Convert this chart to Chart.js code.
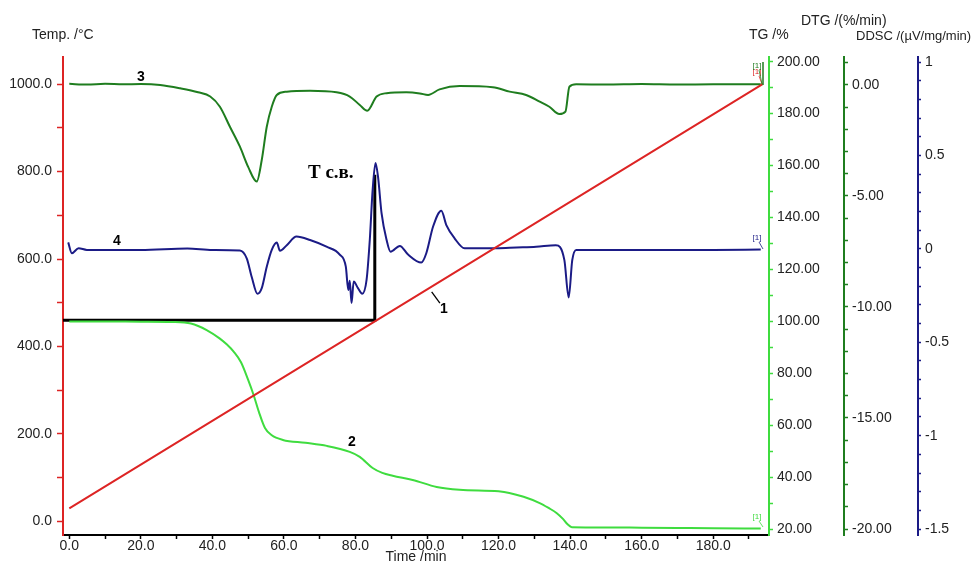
<!DOCTYPE html>
<html>
<head>
<meta charset="utf-8">
<script src="https://cdn.jsdelivr.net/npm/chart.js@4.4.1/dist/chart.umd.min.js"></script>
<style>
html,body{margin:0;padding:0;background:#fff;}
#wrap{width:980px;height:563px;position:relative;}
</style>
</head>
<body>
<div id="wrap"><canvas id="c" width="980" height="563"></canvas></div>
<script>
// ---- Data ----
// Curve 1: temperature (°C) vs time (min)
const tempTime  = [0, 193.8];
const tempValue = [30, 1000];

// Curve 2: TG (%)
const tgTime  = [0, 10, 20, 29, 34, 38.4, 42, 44, 46, 48, 50, 51.5, 53, 54.7, 56.5, 59.7, 66, 72, 78.4, 81.2, 84.8, 87.5, 90.4, 96, 102.7, 109.1, 120, 123, 127, 131.5, 134, 136.2, 138, 139.3, 140.5, 150, 160, 170, 180, 193.3];
const tgValue = [100, 100, 99.9, 99.8, 99.2, 96.7, 93.5, 91.2, 88.3, 84.3, 77.5, 71.8, 65.2, 59, 56.3, 54.4, 53.3, 52.1, 49.8, 47.9, 43.6, 41.7, 40.6, 39, 36.3, 35.2, 34.6, 34, 32.5, 30.1, 28.2, 26.3, 24, 21.9, 20.8, 20.7, 20.6, 20.5, 20.4, 20.3];

// Curve 3: DTG (%/min)
const dtgTime  = [0, 5, 10, 15, 20, 25.4, 31, 36, 39.4, 42.1, 44.9, 47.7, 50, 52.4, 53.8, 55.2, 56.6, 58, 60.8, 67.3, 74.7, 78.4, 81.2, 83.3, 85.9, 88.7, 94.2, 98, 100.3, 103.5, 109.1, 118.4, 123.1, 127.7, 131.5, 134.2, 137, 138.7, 139.8, 141.7, 150, 160, 170, 180, 193.3];
const dtgValue = [0.05, 0.02, 0.05, 0.03, 0.04, 0, -0.15, -0.33, -0.52, -0.98, -1.88, -2.78, -3.69, -4.35, -3.38, -1.88, -0.98, -0.45, -0.3, -0.26, -0.33, -0.52, -0.9, -1.16, -0.52, -0.37, -0.33, -0.38, -0.45, -0.2, -0.05, -0.1, -0.3, -0.45, -0.75, -0.98, -1.31, -1.2, -0.08, 0.03, 0.02, 0.04, 0.02, 0.03, 0.03];

// Curve 4: DDSC (µV/mg/min)
const ddscTime  = [-0.3, 0.7, 2.6, 4.9, 20, 33, 40, 47.7, 49.6, 51, 52.6, 53.8, 55.2, 56.6, 58, 58.9, 60.8, 63.5, 67.3, 71.9, 75.6, 77.3, 78, 78.4, 78.9, 79.5, 80.7, 81.9, 83.1, 84, 84.8, 85.6, 86.3, 87.3, 88.7, 89.8, 92.4, 94.7, 98.4, 99.8, 101.7, 104, 105.4, 107.7, 110.5, 119.4, 125, 130.5, 136, 138.4, 139.6, 140.6, 141.7, 160, 180, 193.3];
const ddscValue = [0.035, -0.023, 0.004, -0.005, -0.005, 0.003, -0.005, -0.008, -0.05, -0.15, -0.24, -0.21, -0.095, -0.005, 0.034, -0.01, 0.02, 0.066, 0.048, 0.012, -0.03, -0.095, -0.22, -0.17, -0.29, -0.175, -0.21, -0.24, -0.166, 0.048, 0.316, 0.46, 0.387, 0.19, 0.048, -0.015, 0.016, -0.03, -0.073, -0.023, 0.12, 0.205, 0.128, 0.057, 0.004, 0.004, 0.008, 0.012, 0.02, -0.06, -0.26, -0.06, -0.005, -0.005, -0.005, -0.003];

// "T с.в." marker line (time, temperature)
const markTime = [-1.8, 85.4, 85.4];
const markTemp = [460, 460, 793];

// Tick values
const xTicks    = [0,10,20,30,40,50,60,70,80,90,100,110,120,130,140,150,160,170,180,190];
const tempTicks = [0,100,200,300,400,500,600,700,800,900,1000];
const tgTicks   = [20,30,40,50,60,70,80,90,100,110,120,130,140,150,160,170,180,190,200];
const dtgTicks  = [-20,-19,-18,-17,-16,-15,-14,-13,-12,-11,-10,-9,-8,-7,-6,-5,-4,-3,-2,-1,0,1];
const ddscTicks = [-1.5,-1.4,-1.3,-1.2,-1.1,-1.0,-0.9,-0.8,-0.7,-0.6,-0.5,-0.4,-0.3,-0.2,-0.1,0,0.1,0.2,0.3,0.4,0.5,0.6,0.7,0.8,0.9,1.0];

// ---- Build ----
const pts = (xs, ys) => xs.map((x, i) => ({x: x, y: ys[i]}));
const FONT = '"Liberation Sans", Arial, sans-serif';
const C_RED = '#dd2424', C_TG = '#3fdc3f', C_DTG = '#1f7d1f', C_DDSC = '#1b1b86';

function setTicks(arr){ return function(scale){ scale.ticks = arr.map(v => ({value: v})); }; }
function isMult(v, m){ return Math.abs(v/m - Math.round(v/m)) < 1e-6; }

function yAxis(opts){
  return {
    type: 'linear', position: opts.pos, min: opts.min, max: opts.max, weight: opts.weight,
    afterBuildTicks: setTicks(opts.ticks),
    afterFit: s => { s.width = opts.width; },
    border: {display: true, color: opts.color, width: 2},
    grid: {display: true, drawOnChartArea: false, drawTicks: true, tickLength: opts.tl, tickColor: opts.color, tickWidth: 1.5},
    ticks: {
      autoSkip: false, padding: opts.pad, color: '#222',
      font: {family: FONT, size: opts.fs || 14, lineHeight: 1},
      callback: function(v){ return isMult(v, opts.major) ? opts.fmt(v) : ''; }
    }
  };
}

const textPlugin = {
  id: 'texts',
  afterDraw(chart){
    const ctx = chart.ctx, xs = chart.scales.x, yt = chart.scales.yTemp;
    const P = (t, v) => [xs.getPixelForValue(t), yt.getPixelForValue(v)];
    ctx.save();
    ctx.fillStyle = '#222';
    ctx.textBaseline = 'middle';
    ctx.textAlign = 'left';
    ctx.font = '14px ' + FONT;
    ctx.fillText('Temp. /°C', 32, 35);
    ctx.fillText('TG /%', 749, 35);
    ctx.fillText('DTG /(%/min)', 801, 21);
    ctx.font = '13px ' + FONT;
    ctx.fillText('DDSC /(µV/mg/min)', 856, 36);
    ctx.font = '14px ' + FONT;
    ctx.textAlign = 'center';
    ctx.fillText('Time /min', (xs.left + xs.right) / 2, 557);

    // curve numbers
    ctx.fillStyle = '#000';
    ctx.font = 'bold 14px ' + FONT;
    const labels = [['3', 20.0, 1016], ['4', 13.3, 641], ['2', 79.0, 182], ['1', 104.7, 486]];
    labels.forEach(l => { const p = P(l[1], l[2]); ctx.fillText(l[0], p[0], p[1]); });
    // leader for "1"
    ctx.strokeStyle = '#000'; ctx.lineWidth = 1.3;
    let a = P(101.3, 525), b = P(103.6, 499);
    ctx.beginPath(); ctx.moveTo(a[0], a[1]); ctx.lineTo(b[0], b[1]); ctx.stroke();

    // T с.в.
    ctx.font = 'bold 19px "Liberation Serif", "Times New Roman", serif';
    const tp = P(73.1, 797);
    ctx.fillText('T с.в.', tp[0], tp[1]);

    // [1] end markers
    ctx.font = '8px ' + FONT;
    const ends = [[C_DDSC, 757, 238, 763, 249], [C_TG, 757, 517, 763, 527], [C_RED, 757, 72, 762, 84], [C_DTG, 757, 66, 762, 84]];
    ends.forEach(e => {
      ctx.fillStyle = e[0]; ctx.strokeStyle = e[0]; ctx.lineWidth = 0.8;
      ctx.fillText('[1]', e[1], e[2]);
      ctx.beginPath(); ctx.moveTo(e[1] + 2, e[2] + 4); ctx.lineTo(e[3], e[4]); ctx.stroke();
    });
    ctx.strokeStyle = C_DTG; ctx.lineWidth = 1.5;
    ctx.beginPath(); ctx.moveTo(763, 62); ctx.lineTo(763, 85); ctx.stroke();
    ctx.restore();
  }
};

const lineDs = (label, data, color, axis, w) => ({
  label: label, data: data, yAxisID: axis, borderColor: color, backgroundColor: color,
  borderWidth: w || 2, pointRadius: 0, fill: false, cubicInterpolationMode: 'monotone'
});

new Chart(document.getElementById('c'), {
  type: 'line',
  data: {
    datasets: [
      lineDs('Temp', pts(tempTime, tempValue), C_RED, 'yTemp'),
      lineDs('TG', pts(tgTime, tgValue), C_TG, 'yTG'),
      lineDs('DTG', pts(dtgTime, dtgValue), C_DTG, 'yDTG'),
      lineDs('DDSC', pts(ddscTime, ddscValue), C_DDSC, 'yDDSC'),
      Object.assign(lineDs('T с.в.', pts(markTime, markTemp), '#000', 'yTemp', 3), {cubicInterpolationMode: 'default', tension: 0})
    ]
  },
  options: {
    responsive: false, animation: false, devicePixelRatio: 1,
    layout: {padding: {top: 57, left: 0, right: 0, bottom: 0}},
    plugins: {legend: {display: false}, tooltip: {enabled: false}},
    scales: {
      x: {
        type: 'linear', position: 'bottom', min: -1.76, max: 195.6,
        afterBuildTicks: setTicks(xTicks),
        afterFit: s => { s.height = 28; },
        border: {display: true, color: '#000', width: 2},
        grid: {display: true, drawOnChartArea: false, drawTicks: true, tickLength: 4, tickColor: '#000', tickWidth: 1.5},
        ticks: {autoSkip: false, maxRotation: 0, padding: 0, color: '#222',
          font: {family: FONT, size: 14, lineHeight: 1},
          callback: v => isMult(v, 20) ? v.toFixed(1) : ''}
      },
      yTemp: yAxis({pos: 'left', min: -31, max: 1062, ticks: tempTicks, width: 63, color: C_RED, tl: 6, pad: 5, major: 200, fmt: v => v.toFixed(1), weight: 1}),
      yTG:   yAxis({pos: 'right', min: 17.8, max: 201.8, ticks: tgTicks, width: 75, color: C_TG, tl: 4, pad: 4, major: 20, fmt: v => v.toFixed(2), weight: 1}),
      yDTG:  yAxis({pos: 'right', min: -20.27, max: 1.26, ticks: dtgTicks, width: 74, color: C_DTG, tl: 4, pad: 4, major: 5, fmt: v => v.toFixed(2), weight: 2}),
      yDDSC: yAxis({pos: 'right', min: -1.532, max: 1.028, ticks: ddscTicks, width: 62, color: C_DDSC, tl: 3, pad: 4, major: 0.5, fmt: v => String(Math.round(v * 10) / 10), weight: 3})
    }
  },
  plugins: [textPlugin]
});
</script>
</body>
</html>
